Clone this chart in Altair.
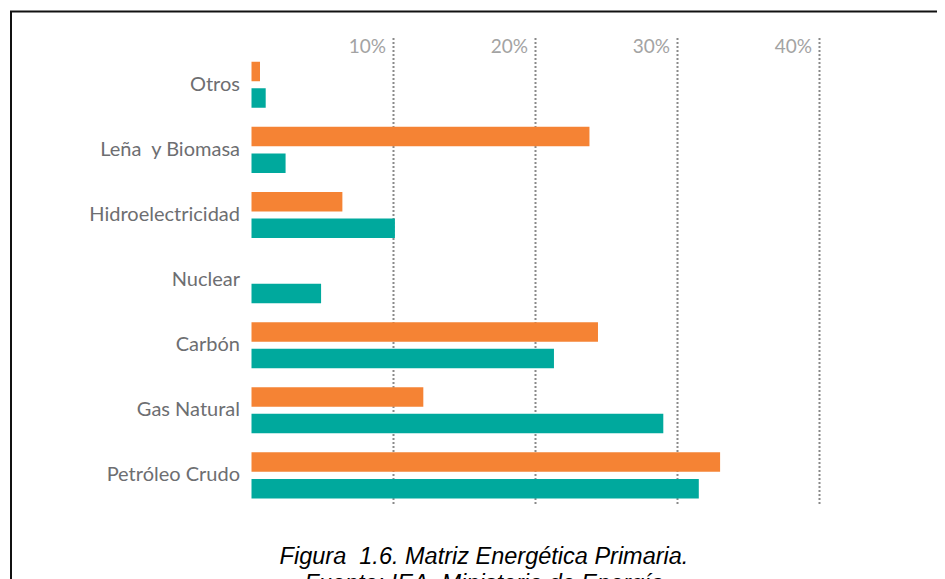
import altair as alt
import pandas as pd

# ---- data ----
categorias = ["Otros", "Leña\u00a0 y Biomasa", "Hidroelectricidad", "Nuclear",
              "Carbón", "Gas Natural", "Petróleo Crudo"]
series = ["Serie A", "Serie B"]
valores_a = [0.6, 23.8, 6.4, 0.0, 24.4, 12.1, 33.0]   # orange bars
valores_b = [1.0, 2.4, 10.1, 4.9, 21.3, 29.0, 31.5]   # teal bars
ticks = [10, 20, 30, 40]
colores = ["#F58334", "#00A99D"]
caption = "Figura\u00a0 1.6. Matriz Energética Primaria.\nFuente: IEA, Ministerio de Energía"

rows = []
for c, a, b in zip(categorias, valores_a, valores_b):
    rows.append({"cat": c, "serie": series[0], "valor": a})
    rows.append({"cat": c, "serie": series[1], "valor": b})
df = pd.DataFrame(rows)
df_ticks = pd.DataFrame({"t": ticks})
df_one = pd.DataFrame({"caption": [caption]})

W, H = 929, 571

xscale = alt.Scale(domain=[0, 40], range=[243.5, 811.5], nice=False, zero=False)

xaxis = alt.Axis(orient="top", values=ticks, labelExpr="datum.value + '%'",
                 title=None, offset=-38, labelPadding=0, ticks=False, tickSize=0,
                 domain=False, grid=False, labelFont="Lato", labelFontSize=19,
                 labelColor="#a3a3a3", labelAlign="right", labelBaseline="middle",
                 labelOffset=-8, labelFlush=False, labelOverlap=False)

grid = alt.Chart(df_ticks).mark_rule(
    color="#8a8a8a", strokeWidth=2, strokeDash=[2, 2]
).encode(
    x=alt.X("t:Q", scale=xscale, axis=xaxis),
    y=alt.value(30),
    y2=alt.value(497),
)

bars = alt.Chart(df).mark_bar().encode(
    x=alt.X("valor:Q", scale=xscale, axis=xaxis),
    y=alt.Y("cat:N", sort=categorias,
            scale=alt.Scale(domain=categorias, range=[44.25, 499.95],
                            paddingInner=0, paddingOuter=0),
            axis=alt.Axis(title=None, orient="left", offset=-231.5, labelPadding=0,
                          ticks=False, tickSize=0, domain=False, grid=False,
                          labelFont="Lato", labelFontSize=20, labelColor="#6d6e71",
                          labelAlign="right", labelBaseline="middle", labelLimit=400)),
    yOffset=alt.YOffset("serie:N", sort=series,
                        scale=alt.Scale(domain=series, paddingInner=0.267, paddingOuter=0.357)),
    color=alt.Color("serie:N", scale=alt.Scale(domain=series, range=colores), legend=None),
)

frame = alt.Chart(df_one).mark_rect(
    fillOpacity=0, stroke="#111111", strokeWidth=2
).encode(
    x=alt.value(3), x2=alt.value(1400), y=alt.value(3.5), y2=alt.value(1400)
)

cap = alt.Chart(df_one).mark_text(
    font="Liberation Sans", fontStyle="italic", fontSize=23.5, align="center",
    baseline="alphabetic", lineBreak="\n", lineHeight=27, color="#000000"
).encode(
    text="caption:N", x=alt.value(476), y=alt.value(556.3)
)

chart = alt.layer(grid, bars, cap, frame).properties(
    width=W, height=H,
    autosize=alt.AutoSizeParams(type="none"),
    padding=0,
    background="white",
).configure_view(stroke=None)

chart.save("out.html", embed_options={"renderer": "svg", "actions": False})
